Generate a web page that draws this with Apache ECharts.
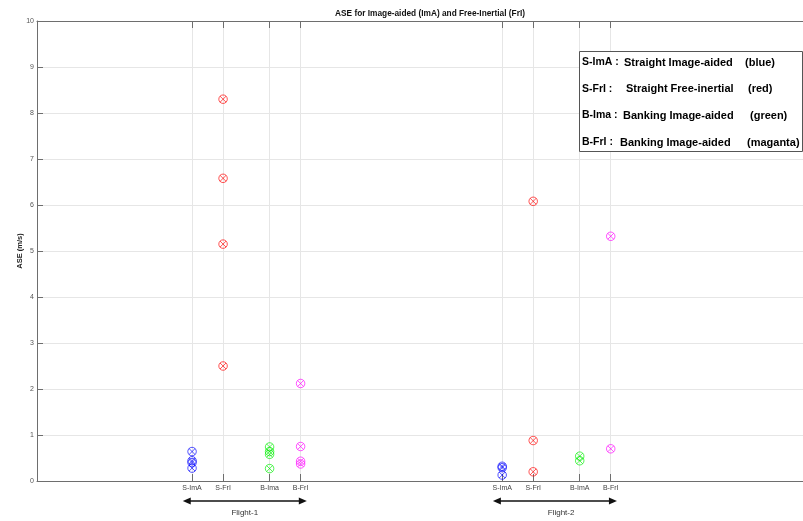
<!DOCTYPE html>
<html><head><meta charset="utf-8">
<script src="https://cdn.jsdelivr.net/npm/echarts@6/dist/echarts.min.js"></script>
<style>html,body{margin:0;padding:0;background:#fff}#c{width:803px;height:521px}</style>
</head><body><div id="c"></div>
<script>
// ---- data ----
const tickPositions = [5, 6, 7.5, 8.5, 15, 16, 17.5, 18.5];
const tickLabels = ['S-ImA', 'S-FrI', 'B-Ima', 'B-FrI', 'S-ImA', 'S-FrI', 'B-ImA', 'B-FrI'];
const yMin = 0, yMax = 10, yStep = 1;

// Flight-1
const sImA_f1 = [0.64, 0.44, 0.40, 0.28];
const sFrI_f1 = [8.30, 6.58, 5.15, 2.50];
const bImA_f1 = [0.74, 0.64, 0.58, 0.27];
const bFrI_f1 = [2.12, 0.75, 0.43, 0.37];
// Flight-2
const sImA_f2 = [0.32, 0.29, 0.13];
const sFrI_f2 = [6.08, 0.88, 0.20];
const bImA_f2 = [0.54, 0.44];
const bFrI_f2 = [5.32, 0.70];

const flightNames = ['Flight-1', 'Flight-2'];
const flightArrowStart = [4.7, 14.7];
const flightArrowEnd = [8.7, 18.7];
const flightLabelX = [6.7, 16.9];

const legendKeys = ['S-ImA :', 'S-FrI :', 'B-Ima :', 'B-FrI :'];
const legendDescs = ['Straight Image-aided', 'Straight Free-inertial', 'Banking Image-aided', 'Banking Image-aided'];
const legendColors = ['(blue)', '(red)', '(green)', '(maganta)'];

const title = 'ASE for Image-aided (ImA) and Free-Inertial (FrI)';
const yName = 'ASE (m/s)';

// ---- chart ----
const chart = echarts.init(document.getElementById('c'), null, {renderer: 'canvas'});
const markerPath = 'path://M0,10A10,10,0,1,1,20,10A10,10,0,1,1,0,10ZM2.93,2.93L17.07,17.07M17.07,2.93L2.93,17.07';

function pts(x, vals) { return vals.map(v => [x, v]); }
function mkSeries(name, color, data) {
  return {
    name, type: 'scatter', data,
    symbol: markerPath, symbolSize: 8.5,
    itemStyle: {color: 'rgba(0,0,0,0)', borderColor: color, borderWidth: 0.8, opacity: 0.85},
    emphasis: {disabled: true}, silent: true, z: 5
  };
}

const series = [
  mkSeries('S-ImA', '#0000ff', pts(tickPositions[0], sImA_f1).concat(pts(tickPositions[4], sImA_f2))),
  mkSeries('S-FrI', '#ff0000', pts(tickPositions[1], sFrI_f1).concat(pts(tickPositions[5], sFrI_f2))),
  mkSeries('B-ImA', '#00ee00', pts(tickPositions[2], bImA_f1).concat(pts(tickPositions[6], bImA_f2))),
  mkSeries('B-FrI', '#ff00ff', pts(tickPositions[3], bFrI_f1).concat(pts(tickPositions[7], bFrI_f2)))
];

const axisCol = '#6e6e6e';
chart.setOption({
  animation: false,
  backgroundColor: '#fff',
  grid: {left: 37, top: 21, right: 0, bottom: 40, containLabel: false},
  xAxis: [{
    type: 'value', min: 0, max: 24.7, position: 'bottom',
    axisLine: {show: true, onZero: false, lineStyle: {color: axisCol, width: 1}},
    axisTick: {show: true, inside: true, length: 7, customValues: tickPositions, lineStyle: {color: axisCol}},
    axisLabel: {show: true, customValues: tickPositions, margin: 4, fontSize: 7, color: '#444',
      fontFamily: 'Liberation Sans',
      formatter: v => { const i = tickPositions.indexOf(v); return i >= 0 ? tickLabels[i] : ''; }},
    splitLine: {show: true, lineStyle: {color: '#e6e6e6', width: 1}}
  }, {
    type: 'value', min: 0, max: 24.7, position: 'top',
    axisLine: {show: true, onZero: false, lineStyle: {color: axisCol, width: 1}},
    axisTick: {show: true, inside: true, length: 7, customValues: tickPositions, lineStyle: {color: axisCol}},
    axisLabel: {show: false},
    splitLine: {show: false}
  }],
  yAxis: {
    type: 'value', min: yMin, max: yMax, interval: yStep,
    name: yName, nameLocation: 'middle', nameGap: 13, nameRotate: 90, nameMoveOverlap: false,
    nameTextStyle: {fontSize: 7.5, fontWeight: 'bold', color: '#222', fontFamily: 'Liberation Sans'},
    axisLine: {show: true, onZero: false, lineStyle: {color: axisCol, width: 1}},
    axisTick: {show: true, inside: true, length: 6, lineStyle: {color: axisCol}},
    axisLabel: {margin: 3, fontSize: 7, color: '#555', fontFamily: 'Liberation Sans'},
    splitLine: {show: true, lineStyle: {color: '#e6e6e6', width: 1}}
  },
  series
});

function buildGraphics() {
  const g = [];
  g.push({type: 'text', silent: true, x: 430, y: 14,
    style: {text: title, textAlign: 'center', textVerticalAlign: 'middle',
      font: 'bold 8.3px "Liberation Sans"', fill: '#111'}});
  const arrowY = 501, labelY = 513;
  for (let i = 0; i < flightNames.length; i++) {
    const x1 = chart.convertToPixel({xAxisIndex: 0}, flightArrowStart[i]);
    const x2 = chart.convertToPixel({xAxisIndex: 0}, flightArrowEnd[i]);
    const xl = chart.convertToPixel({xAxisIndex: 0}, flightLabelX[i]);
    g.push({type: 'line', silent: true, shape: {x1: x1 + 5, y1: arrowY, x2: x2 - 5, y2: arrowY},
      style: {stroke: '#111', lineWidth: 1.6}});
    g.push({type: 'polygon', silent: true, shape: {points: [[x1, arrowY], [x1 + 8, arrowY - 3.5], [x1 + 8, arrowY + 3.5]]},
      style: {fill: '#111'}});
    g.push({type: 'polygon', silent: true, shape: {points: [[x2, arrowY], [x2 - 8, arrowY - 3.5], [x2 - 8, arrowY + 3.5]]},
      style: {fill: '#111'}});
    g.push({type: 'text', silent: true, x: xl, y: labelY,
      style: {text: flightNames[i], textAlign: 'center', textVerticalAlign: 'middle',
        font: '8px "Liberation Sans"', fill: '#333'}});
  }
  // legend box
  g.push({type: 'rect', silent: true, shape: {x: 579.5, y: 51.5, width: 223, height: 100},
    style: {fill: '#fff', stroke: '#555', lineWidth: 1}, z: 10});
  const rowY = [62.5, 89, 115.5, 142.5];
  const descX = [624, 626, 623, 620];
  const colX = [745, 748, 750, 747];
  const fKey = 'bold 10.5px "Liberation Sans"';
  const f = 'bold 11px "Liberation Sans"';
  for (let i = 0; i < legendKeys.length; i++) {
    g.push({type: 'text', silent: true, x: 582, y: rowY[i], z: 11,
      style: {text: legendKeys[i], textVerticalAlign: 'middle', font: fKey, fill: '#000'}});
    g.push({type: 'text', silent: true, x: descX[i], y: rowY[i], z: 11,
      style: {text: legendDescs[i], textVerticalAlign: 'middle', font: f, fill: '#000'}});
    g.push({type: 'text', silent: true, x: colX[i], y: rowY[i], z: 11,
      style: {text: legendColors[i], textVerticalAlign: 'middle', font: f, fill: '#000'}});
  }
  return g;
}
chart.setOption({graphic: buildGraphics()});
</script>
</body></html>
